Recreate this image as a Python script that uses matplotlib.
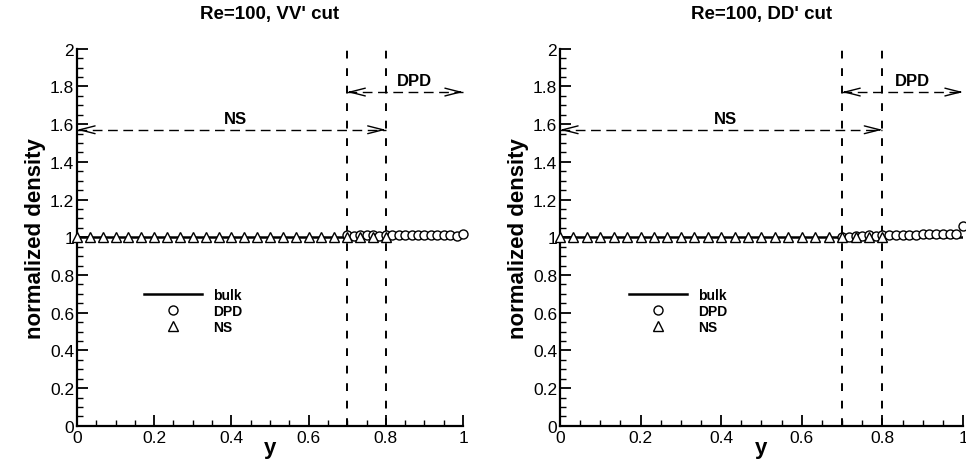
import numpy as np
import matplotlib.pyplot as plt
from matplotlib.ticker import MultipleLocator

plt.rcParams['font.family'] = ['Liberation Sans', 'DejaVu Sans']

titles = ["Re=100, VV' cut", "Re=100, DD' cut"]

# NS samples (triangles)
ns_y = np.arange(25) / 30.0
ns_rho = [1.0] * 25

# DPD samples (circles), y from 0.7 to 1.0
dpd_y = 0.7 + np.arange(19) / 60.0
dpd_rho_vv = [1.01, 1.005, 1.01, 1.01, 1.01, 1.005, 1.01, 1.01, 1.01, 1.01,
              1.01, 1.01, 1.01, 1.01, 1.01, 1.01, 1.01, 1.005, 1.02]
dpd_rho_dd = [1.0, 1.0, 1.005, 1.005, 1.01, 1.005, 1.01, 1.01, 1.01, 1.01,
              1.01, 1.01, 1.015, 1.015, 1.015, 1.02, 1.02, 1.02, 1.06]
dpd_sets = [dpd_rho_vv, dpd_rho_dd]

bulk_y = [0.0, 1.0]
bulk_rho = [1.0, 1.0]

# region extents (y-range, height on plot)
ns_region = (0.0, 0.8, 1.57)
dpd_region = (0.7, 1.0, 1.77)


def region_arrow(ax, x0, x1, h):
    ax.plot([x0, x1], [h, h], color='black', lw=1.0, ls=(0, (7, 4)), clip_on=False)
    head = dict(arrowstyle='->,head_length=1.1,head_width=0.28', lw=1.0,
                color='black', shrinkA=0, shrinkB=0)
    ax.annotate('', xy=(x0, h), xytext=(x0 + 0.01, h), arrowprops=head)
    ax.annotate('', xy=(x1, h), xytext=(x1 - 0.01, h), arrowprops=head)


fig = plt.figure(figsize=(9.66, 4.6), dpi=100)
positions = [[0.0797, 0.072, 0.3996, 0.820], [0.5797, 0.072, 0.4172, 0.820]]

for pos, title, dpd_rho in zip(positions, titles, dpd_sets):
    ax = fig.add_axes(pos)
    ax.plot(bulk_y, bulk_rho, color='black', lw=1.8, label='bulk', zorder=2)
    ax.plot(dpd_y, dpd_rho, 'o', mfc='white', mec='black', ms=6.5, mew=1.0,
            label='DPD', zorder=3, clip_on=False)
    ax.plot(ns_y, ns_rho, '^', mfc='white', mec='black', ms=6.5, mew=1.0,
            label='NS', zorder=3, clip_on=False)

    # interface lines
    for xv in (0.7, 0.8):
        ax.plot([xv, xv], [0, 2.03], color='black', lw=1.4, ls=(0, (4, 5)),
                clip_on=False, zorder=1)

    region_arrow(ax, *ns_region)
    region_arrow(ax, *dpd_region)
    ax.text(0.41, 1.59, 'NS', fontsize=12, fontweight='bold', ha='center', va='bottom')
    ax.text(0.875, 1.79, 'DPD', fontsize=12, fontweight='bold', ha='center', va='bottom')

    ax.set_xlim(0, 1)
    ax.set_ylim(0, 2)
    ax.xaxis.set_major_locator(MultipleLocator(0.2))
    ax.xaxis.set_minor_locator(MultipleLocator(0.05))
    ax.yaxis.set_major_locator(MultipleLocator(0.2))
    ax.yaxis.set_minor_locator(MultipleLocator(0.05))
    ax.set_xticklabels([f'{v:g}' for v in ax.get_xticks()])
    ax.set_yticklabels([f'{v:g}' for v in ax.get_yticks()])
    ax.tick_params(which='major', direction='in', length=8, width=1.3, labelsize=12.5)
    ax.tick_params(axis='x', which='major', pad=3)
    ax.tick_params(axis='y', which='major', pad=2)
    ax.tick_params(which='minor', direction='in', length=4, width=1.0)
    for s in ('top', 'right'):
        ax.spines[s].set_visible(False)
    for s in ('left', 'bottom'):
        ax.spines[s].set_linewidth(1.6)

    ax.set_xlabel('y', fontsize=16, fontweight='bold', va='bottom')
    ax.xaxis.set_label_coords(0.5, -0.085)
    ax.set_ylabel('normalized density', fontsize=16, fontweight='bold', labelpad=3)
    ax.set_title(title, fontsize=13.5, fontweight='bold', pad=22)

    ax.legend(loc='upper left', bbox_to_anchor=(0.14, 0.40), frameon=False,
              handlelength=4.2, handletextpad=0.8, labelspacing=0.15,
              prop=dict(size=10, weight='bold'))

fig.savefig('out.png', dpi=100)
